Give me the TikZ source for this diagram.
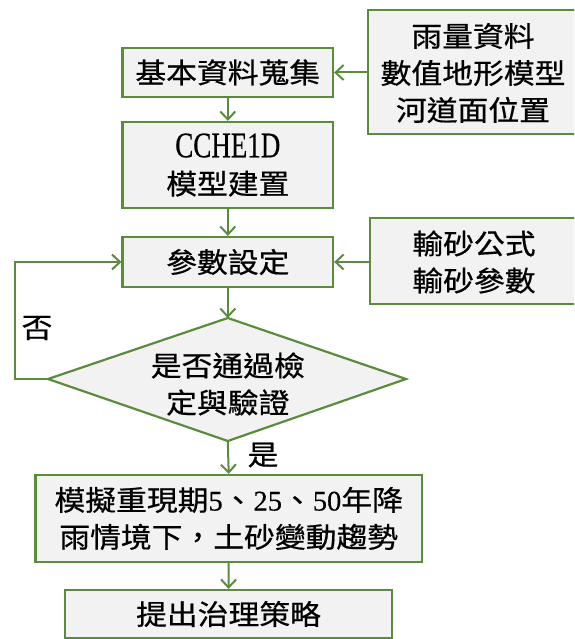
\documentclass[tikz,border=0pt]{standalone}
\usepackage{fontspec}
\newfontfamily\cjk[FakeStretch=1.1,FakeBold=0.6]{Noto Sans CJK TC}
\newfontfamily\lat[FakeStretch=0.75,FakeBold=0.4]{Liberation Serif}
\newfontfamily\dig[FakeBold=0.4]{Liberation Serif}
\usetikzlibrary{arrows.meta}
\definecolor{bordergreen}{HTML}{5B8C3E}
\definecolor{boxfill}{HTML}{F2F2F2}
\newcommand{\dg}[1]{{\dig\fontsize{28.5}{37}\selectfont #1}}
\tikzset{
  box/.style={draw=bordergreen, fill=boxfill, line width=2.2pt, inner sep=0pt, align=center},
  txt/.style={font=\cjk\fontsize{28}{37}\selectfont, align=center, inner sep=0pt, text=black},
  arr/.style={draw=bordergreen, line width=2pt, -{Straight Barb[length=8pt,width=15pt,line width=2pt]}},
}
\begin{document}
\begin{tikzpicture}[x=1pt,y=-1pt]
\clip (0,0) rectangle (574,639);
\fill[white] (0,0) rectangle (574,639);
% main boxes
\node[box, minimum width=210.5pt, minimum height=49pt] (b1) at (227.8,72.5) {};
\node[txt] (t1) at (b1.center) {基本資料蒐集};
\node[box, minimum width=210.5pt, minimum height=86pt] (b2) at (227.8,165) {};
\node[txt] (t2) at (b2.center) {{\lat\fontsize{36}{36}\selectfont CCHE1D}\\模型建置};
\node[box, minimum width=210.5pt, minimum height=50pt] (b3) at (227.8,262) {};
\node[txt] (t3) at (b3.center) {參數設定};
% side boxes
\node[box, minimum width=240pt, minimum height=124pt] (r1) at (488,72) {};
\node[txt] (rt1) at (473,73) {雨量資料\\數值地形模型\\河道面位置};
\node[box, minimum width=240pt, minimum height=86pt] (r2) at (490,261) {};
\node[txt] (rt2) at (474,262) {輸砂公式\\輸砂參數};
% diamond
\coordinate (dT) at (227.8,318);
\coordinate (dL) at (48,379);
\coordinate (dR) at (406,379);
\coordinate (dB) at (227.8,441);
\filldraw[draw=bordergreen, fill=boxfill, line width=2.2pt, line join=miter] (dT) -- (dR) -- (dB) -- (dL) -- cycle;
\node[txt] (dt) at (227.8,384) {是否通過檢\\定與驗證};
% lower boxes
\node[box, minimum width=386.5pt, minimum height=87pt] (b4) at (228.7,518.5) {};
\node[txt] (t4) at (b4.center) {模擬重現期\dg{5}、\dg{25}、\dg{50}年降\\雨情境下，土砂變動趨勢};
\node[box, minimum width=327pt, minimum height=48pt] (b5) at (228.5,614) {};
\node[txt] (t5) at (b5.center) {提出治理策略};
% connectors
\draw[arr] (r1.west |- b1.east) -- (b1.east);
\draw[arr] (b1.south) -- (b2.north);
\draw[arr] (b2.south) -- (b3.north);
\draw[arr] (r2.west |- b3.east) -- (b3.east);
\draw[arr] (b3.south) -- (dT);
\draw[arr] (dB) -- (b4.north);
\draw[arr] (b4.south) -- (b5.north);
\coordinate (lp) at (15,379);
\draw[arr] (dL) -- (lp) |- (b3.west);
% labels
\node[txt] (no) at (37,328) {否};
\node[txt] (yes) at (263,455) {是};
\end{tikzpicture}
\end{document}
